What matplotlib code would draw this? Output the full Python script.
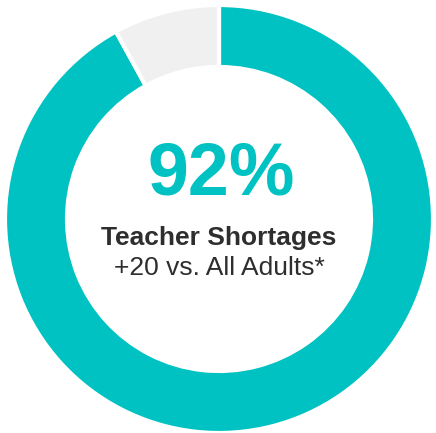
import matplotlib
matplotlib.use("Agg")
import matplotlib.pyplot as plt

labels = ["Teacher Shortages", "Other"]
values = [92, 8]
colors = ["#00C2C2", "#F0F0F0"]
headline = "92%"
title = "Teacher Shortages"
subtitle = "+20 vs. All Adults*"

W, H = 436, 433
fig = plt.figure(figsize=(W / 100, H / 100), dpi=100)
ax = fig.add_axes([0, 0, 1, 1])
ax.set_xlim(0, W)
ax.set_ylim(0, H)
ax.set_aspect("equal")
ax.axis("off")

cx, cy = 219, H - 219
ax.pie(values, colors=colors, startangle=90, counterclock=False,
       radius=214, center=(cx, cy),
       wedgeprops=dict(width=62, edgecolor="white", linewidth=3))
ax.set_xlim(0, W)
ax.set_ylim(0, H)

ff = ["Liberation Sans", "DejaVu Sans"]
ax.text(cx + 2, H - 175, headline, ha="center", va="center", fontsize=53,
        fontweight="bold", color=colors[0], family=ff)
ax.text(cx, H - 238, title, ha="center", va="center", fontsize=19,
        fontweight="bold", color="#2E2E2E", family=ff)
ax.text(cx, H - 268, subtitle, ha="center", va="center", fontsize=19,
        color="#2E2E2E", family=ff)

fig.savefig("out.png", dpi=100)
